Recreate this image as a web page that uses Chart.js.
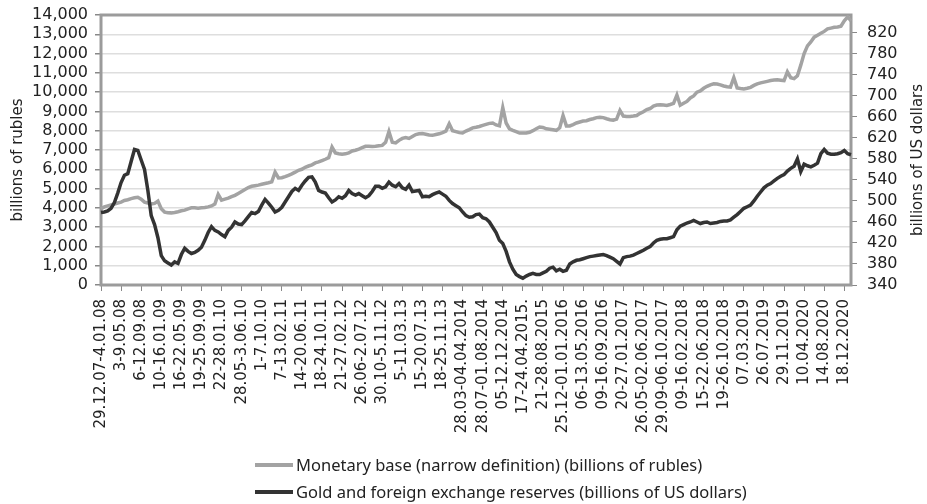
<!DOCTYPE html>
<html>
<head>
<meta charset="utf-8">
<script src="https://cdn.jsdelivr.net/npm/chart.js@4.4.0/dist/chart.umd.min.js"></script>
<style>
  body { margin: 0; background: #fff; }
  #wrap { position: relative; width: 927px; height: 504px; }
  #legend { position: absolute; left: 255px; top: 451px; font: 16.5px "Noto Sans"; color: #222; }
  .item { display: flex; align-items: center; height: 27px; white-space: nowrap; }
  .swatch { width: 38px; height: 4px; margin-right: 3px; }
</style>
</head>
<body>
<div id="wrap">
  <canvas id="chart" width="927" height="504"></canvas>
  <div id="legend"></div>
</div>
<script>
// --- Data (one point every 3 weeks, a label every 18 weeks) ---
const TICK_LABELS = [
  "29.12.07-4.01.08", "3-9.05.08", "6-12.09.08", "10-16.01.09", "16-22.05.09",
  "19-25.09.09", "22-28.01.10", "28.05-3.06.10", "1-7.10.10", "7-13.02.11",
  "14-20.06.11", "18-24.10.11", "21-27.02.12", "26.06-2.07.12", "30.10-5.11.12",
  "5-11.03.13", "15-20.07.13", "18-25.11.13", "28.03-04.04.2014", "28.07-01.08.2014",
  "05-12.12.2014", "17-24.04.2015.", "21-28.08.2015", "25.12-01.01.2016", "06-13.05.2016",
  "09-16.09.2016", "20-27.01.2017", "26.05-02.06.2017", "29.09-06.10.2017", "09-16.02.2018",
  "15-22.06.2018", "19-26.10.2018", "07.03.2019", "26.07.2019", "29.11.2019",
  "10.04.2020", "14.08.2020", "18.12.2020",
];
const POINTS_PER_LABEL = 6;
const RIGHT_TICKS = [340, 380, 420, 460, 500, 540, 580, 620, 660, 700, 740, 780, 820];

// billions of rubles (left axis)
const MONETARY_BASE = [
  3950, 4050, 4100, 4150, 4200, 4250, 4300, 4380, 4420, 4480,
  4520, 4550, 4450, 4300, 4250, 4200, 4230, 4350, 3950, 3780,
  3750, 3740, 3760, 3800, 3850, 3880, 3950, 4000, 4000, 3980,
  4000, 4020, 4050, 4100, 4200, 4700, 4400, 4450, 4500, 4580,
  4650, 4750, 4850, 4950, 5050, 5120,
  5150, 5180, 5220, 5260, 5300, 5350, 5850, 5550, 5560, 5620,
  5690, 5760, 5850, 5950, 6000, 6100, 6170, 6230, 6330, 6380,
  6450, 6520, 6600, 7150, 6850, 6810, 6780, 6800, 6850, 6950,
  6990, 7050, 7120, 7190, 7190, 7180, 7190, 7220, 7240, 7400,
  7950, 7400, 7370, 7500, 7600, 7650,
  7600, 7700, 7800, 7840, 7850, 7820, 7780, 7760, 7800, 7840,
  7900, 7980, 8360, 8000, 7950, 7900, 7880, 7980, 8060, 8150,
  8180, 8220, 8280, 8330, 8380, 8400, 8300, 8250, 9200, 8400,
  8100, 8020, 7950, 7880, 7880, 7880, 7920, 8000, 8100, 8190,
  8170, 8100, 8080, 8050, 8020,
  8150, 8780, 8250, 8250, 8320, 8400, 8450, 8500, 8520, 8580,
  8620, 8680, 8700, 8680, 8620, 8570, 8550, 8600, 9050, 8760,
  8740, 8740, 8760, 8790, 8900, 8980, 9100, 9150, 9280, 9330,
  9340, 9330, 9310, 9360, 9420, 9850, 9320, 9420, 9520, 9700,
  9800, 10000, 10060, 10200, 10300, 10380,
  10430, 10420, 10380, 10320, 10280, 10260, 10750, 10220, 10190, 10170,
  10200, 10250, 10350, 10430, 10480, 10520, 10560, 10600, 10630, 10640,
  10620, 10600, 11050, 10750, 10700, 10850, 11400, 12000, 12400, 12600,
  12850, 12950, 13050, 13150, 13280, 13320, 13360, 13380, 13420, 13700,
  13900, 13700,
];

// billions of US dollars (right axis)
const RESERVES = [
  478, 479, 481, 486, 497, 515, 535, 549, 552, 575,
  598, 596, 578, 560, 520, 472, 455, 430, 396, 386,
  382, 378, 384, 381, 398, 410, 404, 400, 402, 406,
  412, 425, 440, 451, 444, 441, 436, 432, 444, 450,
  460, 456, 455, 462, 470, 478,
  476, 480, 492, 503, 496, 488, 479, 482, 488, 498,
  508, 518, 524, 520, 530, 538, 545, 546, 536, 520,
  517, 515, 506, 498, 502, 508, 505, 510, 520, 514,
  511, 514, 510, 506, 510, 518, 528, 528, 524, 527,
  536, 530, 527, 533, 525, 522,
  530, 518, 519, 520, 508, 509, 508, 512, 515, 517,
  513, 509, 501, 495, 491, 487, 479, 472, 469, 470,
  474, 475, 468, 466, 460, 450, 440, 425, 419, 404,
  384, 370, 360, 356, 353, 357, 360, 362, 360, 360,
  363, 366, 372, 374, 367,
  370, 366, 368, 380, 384, 387, 388, 390, 392, 394,
  395, 396, 397, 398, 396, 393, 390, 385, 380, 392,
  394, 395, 397, 400, 403, 406, 410, 413, 420, 425,
  427, 428, 428, 430, 432, 445, 452, 455, 458, 460,
  463, 460, 457, 459, 460, 457,
  458, 459, 461, 462, 462, 464, 469, 474, 480, 486,
  489, 492, 500, 509, 517, 525, 530, 533, 538, 543,
  547, 550, 557, 562, 566, 580, 556, 570, 567, 565,
  568, 572, 590, 598, 591, 589, 589, 590, 592, 596,
  590, 588,
];

const SERIES_NAMES = [
  "Monetary base (narrow definition) (billions of rubles)",
  "Gold and foreign exchange reserves (billions of US dollars)",
];
const LEFT_TITLE = "billions of rubles";
const RIGHT_TITLE = "billions of US dollars";

const COLORS = { BASE: "#a3a3a3", RESERVES: "#333333", FRAME: "#9b9b9b", GRID: "#dedede", TEXT: "#222" };
const FONT = "DejaVu Sans";

// category list: only every 6th point carries a label
const labels = MONETARY_BASE.map((_, i) =>
  i % POINTS_PER_LABEL === 0 ? TICK_LABELS[i / POINTS_PER_LABEL] || "" : "",
);

// frame around the plot and the two rotated axis titles
const framePlugin = {
  id: "frame",
  beforeDatasetsDraw(chart) {
    const { ctx, chartArea: a } = chart;
    ctx.save();
    ctx.strokeStyle = COLORS.FRAME;
    ctx.lineWidth = 3;
    ctx.strokeRect(a.left, a.top, a.right - a.left, a.bottom - a.top);
    ctx.restore();
  },
  afterDraw(chart) {
    const ctx = chart.ctx;
    ctx.save();
    ctx.fillStyle = COLORS.TEXT;
    ctx.font = `15px "${FONT}"`;
    ctx.textAlign = "center";
    ctx.textBaseline = "middle";
    [[18, LEFT_TITLE], [918, RIGHT_TITLE]].forEach(([x, t]) => {
      ctx.save();
      ctx.translate(x, 160);
      ctx.rotate(-Math.PI / 2);
      ctx.fillText(t, 0, 0);
      ctx.restore();
    });
    ctx.restore();
  },
};

function noVerticalPadding(s, width) {
  s.width = width;
  s.paddingTop = 0;
  s.paddingBottom = 0;
}

function buildLegend() {
  const el = document.getElementById("legend");
  [COLORS.BASE, COLORS.RESERVES].forEach((c, i) => {
    const row = document.createElement("div");
    row.className = "item";
    const sw = document.createElement("span");
    sw.className = "swatch";
    sw.style.background = c;
    const txt = document.createElement("span");
    txt.textContent = SERIES_NAMES[i];
    row.appendChild(sw);
    row.appendChild(txt);
    el.appendChild(row);
  });
}

function init() {
  const ctx = document.getElementById("chart").getContext("2d");
  new Chart(ctx, {
    type: "line",
    data: {
      labels: labels,
      datasets: [
        {
          label: SERIES_NAMES[0],
          data: MONETARY_BASE,
          yAxisID: "y",
          borderColor: COLORS.BASE,
          borderWidth: 3.5,
          pointRadius: 0,
          tension: 0,
          order: 1,
        },
        {
          label: SERIES_NAMES[1],
          data: RESERVES,
          yAxisID: "y1",
          borderColor: COLORS.RESERVES,
          borderWidth: 3.5,
          pointRadius: 0,
          tension: 0,
          order: 0,
        },
      ],
    },
    options: {
      responsive: false,
      animation: false,
      layout: { padding: { top: 15, left: 0, right: 0, bottom: 0 } },
      plugins: { legend: { display: false }, tooltip: { enabled: false } },
      scales: {
        x: {
          afterBuildTicks: (s) => {
            s.ticks = s.ticks.filter((t) => t.value % POINTS_PER_LABEL === 0);
          },
          afterFit: (s) => { s.height = 219; },
          border: { display: false },
          grid: { drawOnChartArea: false, drawTicks: true, tickLength: 6, color: "#888" },
          ticks: {
            autoSkip: false,
            maxRotation: 90,
            minRotation: 90,
            padding: 8,
            color: COLORS.TEXT,
            font: { family: FONT, size: 15 },
          },
        },
        y: {
          position: "left",
          min: 0,
          max: 14000,
          afterFit: (s) => noVerticalPadding(s, 101),
          border: { display: false },
          grid: { color: COLORS.GRID, lineWidth: 1.5, tickColor: "#888", tickLength: 6 },
          ticks: {
            stepSize: 1000,
            autoSkip: false,
            padding: 7,
            color: COLORS.TEXT,
            font: { family: FONT, size: 16 },
            callback: (v) => v.toLocaleString("en-US"),
          },
        },
        y1: {
          position: "right",
          min: 340,
          max: 854,
          afterBuildTicks: (s) => {
            s.ticks = RIGHT_TICKS.map((v) => ({ value: v }));
          },
          afterFit: (s) => noVerticalPadding(s, 76),
          border: { display: false },
          grid: { drawOnChartArea: false, tickColor: "#888", tickLength: 6 },
          ticks: {
            autoSkip: false,
            padding: 10,
            color: COLORS.TEXT,
            font: { family: FONT, size: 16 },
          },
        },
      },
    },
    plugins: [framePlugin],
  });
}

buildLegend();
init();
</script>
</body>
</html>
